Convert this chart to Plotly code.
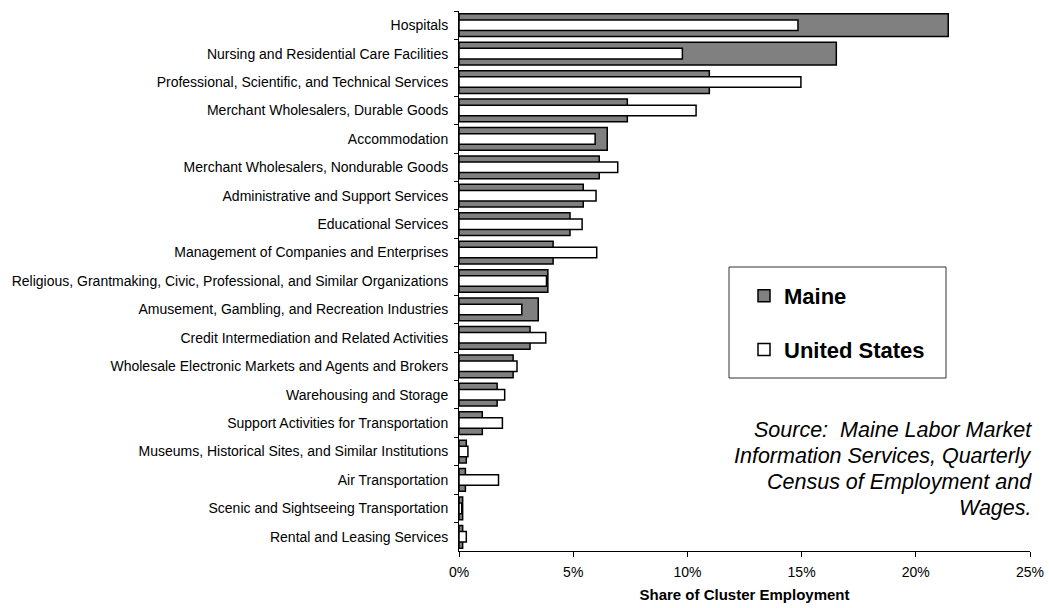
import plotly.graph_objects as go

categories = [
    "Hospitals",
    "Nursing and Residential Care Facilities",
    "Professional, Scientific, and Technical Services",
    "Merchant Wholesalers, Durable Goods",
    "Accommodation",
    "Merchant Wholesalers, Nondurable Goods",
    "Administrative and Support Services",
    "Educational Services",
    "Management of Companies and Enterprises",
    "Religious, Grantmaking, Civic, Professional, and Similar Organizations",
    "Amusement, Gambling, and Recreation Industries",
    "Credit Intermediation and Related Activities",
    "Wholesale Electronic Markets and Agents and Brokers",
    "Warehousing and Storage",
    "Support Activities for Transportation",
    "Museums, Historical Sites, and Similar Institutions",
    "Air Transportation",
    "Scenic and Sightseeing Transportation",
    "Rental and Leasing Services",
]
maine = [21.42, 16.52, 10.96, 7.37, 6.49, 6.14, 5.44, 4.86, 4.12, 3.89,
         3.47, 3.11, 2.37, 1.67, 1.02, 0.32, 0.28, 0.16, 0.16]
us = [14.84, 9.78, 14.97, 10.38, 5.96, 6.95, 6.00, 5.39, 6.03, 3.83,
      2.75, 3.80, 2.54, 2.00, 1.90, 0.39, 1.73, 0.12, 0.32]
x_ticks = [0, 5, 10, 15, 20, 25]
x_tick_labels = ["0%", "5%", "10%", "15%", "20%", "25%"]
source_lines = [
    "Source:  Maine Labor Market",
    "Information Services, Quarterly",
    "Census of Employment and",
    "Wages.",
]

FONT = "Liberation Sans, Arial, sans-serif"

fig = go.Figure()
fig.add_trace(go.Bar(
    y=categories, x=maine, orientation="h", name="Maine", width=0.8,
    marker=dict(color="#808080", line=dict(color="black", width=1.5)),
    legendgroup="a",
))
fig.add_trace(go.Bar(
    y=categories, x=us, orientation="h", name="United States", width=0.37,
    marker=dict(color="white", line=dict(color="black", width=1.5)),
    legendgroup="b",
))

L, R, T, B = 459, 1030, 11, 551
W, H = R - L, B - T

def px_x(p):
    return (p - L) / W

def px_y(p):
    return 1 - (p - T) / H

annotations = []
for i, line in enumerate(source_lines):
    annotations.append(dict(
        xref="paper", yref="paper", x=px_x(1034), y=px_y(430 + 26 * i),
        xanchor="right", yanchor="middle", align="right", showarrow=False,
        text="<i>" + line + "</i>",
        font=dict(size=21.5, family=FONT, color="black"),
    ))

fig.update_layout(
    width=1049, height=608,
    margin=dict(l=L, r=1049 - R, t=T, b=608 - B, pad=0, autoexpand=False),
    paper_bgcolor="white", plot_bgcolor="white",
    barmode="overlay",
    font=dict(family=FONT, color="black", size=14),
    xaxis=dict(
        range=[0, 25], tickvals=x_ticks, ticktext=x_tick_labels,
        showgrid=False, zeroline=False, showline=True, linecolor="black",
        linewidth=1, ticks="outside", ticklen=5, tickcolor="black",
        tickfont=dict(size=14), ticklabelstandoff=3, automargin=False,
        title=dict(text="Share of Cluster Employment",
                   font=dict(size=15, weight="bold"), standoff=10),
    ),
    yaxis=dict(
        categoryorder="array", categoryarray=categories, autorange="reversed",
        showgrid=False, zeroline=False, showline=True, linecolor="black",
        linewidth=1, ticks="outside", ticklen=4, tickcolor="black",
        tickson="boundaries", tickfont=dict(size=14), ticklabelstandoff=7,
        automargin=False,
    ),
    showlegend=True,
    legend=dict(
        x=px_x(744), y=px_y(275), xanchor="left", yanchor="top",
        font=dict(size=22, weight="bold"), bgcolor="rgba(0,0,0,0)",
        borderwidth=0, tracegroupgap=22, itemwidth=30,
    ),
    shapes=[dict(
        type="rect", xref="paper", yref="paper",
        x0=px_x(729), x1=px_x(946), y0=px_y(378), y1=px_y(267),
        line=dict(color="#333333", width=1), fillcolor="rgba(0,0,0,0)",
    )],
    annotations=annotations,
)

fig.write_html("out.html")
